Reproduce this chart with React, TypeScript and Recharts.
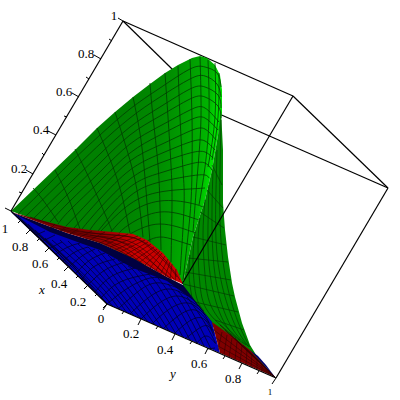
import { ScatterChart, Scatter, XAxis, YAxis } from "recharts";

type Path = number[][];

const boxBack: Path[] = [
  [[123, 21], [293, 96]],
  [[123, 21], [217, 113]],
  [[217, 113], [388, 188]],
];
const boxFront: Path[] = [
  [[293, 96], [388, 188]],
  [[293, 96], [182, 284]],
  [[388, 188], [276, 378]],
];

const greenMain: Path = [
  [11, 211], [33, 190], [55, 169], [75, 150], [97, 128], [115, 112], [133, 97], [150, 84], [165, 73], [178, 65],
  [192, 58], [200, 56], [207, 58], [215, 65], [220, 75], [222, 90], [222, 113], [218, 135], [212, 170], [205, 200],
  [193, 237], [183, 283], [100, 243], [11, 211],
];
// its lower side runs on under the band and the red tip, which are drawn over it
const greenFlap: Path = [
  [183, 283], [193, 237], [205, 200], [212, 170], [218, 135], [221, 110], [223, 150], [223, 203], [225, 230],
  [228, 257], [232, 283], [235, 297], [242, 323], [250, 345], [258, 358], [275, 377], [250, 354], [233, 342], [213, 327], [198, 312], [183, 290],
];
const greenArcs: Path[] = [
  [[18, 214], [40, 193], [70, 163], [100, 135], [130, 109], [160, 88], [190, 69], [205, 67], [217, 73], [221, 87]],
  [[26, 216], [70, 173], [100, 144], [130, 118], [160, 97], [190, 79], [205, 76], [217, 84], [221, 97]],
  [[34, 218], [70, 183], [100, 154], [130, 127], [160, 107], [190, 89], [205, 87], [218, 95], [221, 108]],
  [[42, 220], [70, 192], [100, 163], [130, 135], [160, 116], [190, 99], [205, 97], [218, 106], [221, 118]],
  [[50, 222], [70, 201], [100, 172], [130, 144], [160, 126], [190, 110], [205, 108], [219, 122]],
  [[58, 224], [70, 210], [100, 181], [130, 153], [160, 135], [190, 120], [205, 118], [218, 130]],
  [[66, 226], [100, 190], [130, 161], [160, 145], [190, 131], [205, 129], [216, 140]],
  [[74, 228], [100, 199], [130, 170], [160, 154], [190, 142], [205, 141], [215, 150]],
  [[82, 229], [100, 208], [130, 179], [160, 163], [190, 153], [205, 152], [213, 158]],
  [[90, 230], [100, 217], [130, 187], [160, 173], [190, 164], [205, 163], [212, 170]],
  [[98, 231], [130, 196], [160, 182], [190, 176], [205, 175], [209, 178]],
  [[100, 232], [130, 204], [160, 192], [190, 189], [205, 188]],
  [[110, 233], [130, 213], [160, 201], [190, 203], [203, 207]],
  [[118, 234], [130, 224], [160, 212], [190, 217], [199, 220]],
  [[130, 234], [160, 224], [190, 231], [195, 232]],
  [[147, 241], [160, 237], [175, 240], [191, 245]],
];
const greenRadials: Path[] = [
  [[33, 188], [43, 200], [58, 222]],
  [[55, 170], [68, 197], [80, 229]],
  [[75, 149], [90, 180], [105, 214], [112, 231]],
  [[97, 128], [113, 167], [123, 200], [130, 233]],
  [[115, 112], [127, 150], [137, 190], [143, 237]],
  [[133, 97], [141, 140], [146, 190], [150, 242]],
  [[150, 83], [153, 117], [158, 165], [160, 207], [161, 250]],
  [[165, 73], [168, 117], [171, 165], [172, 203], [171, 262]],
  [[178, 66], [180, 117], [183, 170], [184, 207], [180, 275]],
  [[190, 59], [192, 117], [192, 170], [190, 215], [183, 280]],
  [[200, 57], [201, 117], [198, 167], [193, 232]],
  [[208, 60], [209, 117], [205, 167], [199, 205]],
  [[215, 63], [215, 117], [208, 167]],
  [[219, 73], [218, 117], [212, 160]],
];
const flapLines: Path[] = [
  [[221, 120], [220, 170], [220, 220], [225, 275], [238, 322], [250, 347]],
  [[217, 150], [216, 190], [216, 240], [222, 285], [235, 325], [249, 347]],
  [[213, 170], [212, 210], [213, 255], [219, 295], [232, 328], [248, 346]],
  [[209, 185], [208, 225], [209, 265], [216, 302], [229, 330], [246, 345]],
  [[205, 200], [203, 235], [205, 275], [213, 310], [240, 340]],
  [[200, 218], [198, 245], [200, 285], [209, 313], [236, 338]],
  [[195, 232], [193, 260], [196, 295], [204, 311]],
  [[190, 255], [189, 275], [192, 298]],
  [[212, 165], [222, 185]],
  [[207, 190], [223, 208]],
  [[200, 212], [224, 228]],
  [[193, 237], [226, 245]],
  [[188, 258], [228, 262]],
  [[185, 272], [231, 280]],
  [[183, 284], [234, 296]],
  [[195, 302], [238, 312]],
  [[215, 320], [244, 330]],
];

const redMain: Path = [
  [11, 212], [40, 220], [67, 227], [90, 230], [113, 232], [133, 234], [147, 240], [163, 253], [177, 270], [183, 284],
  [167, 277], [133, 258], [100, 243], [67, 233], [11, 212],
];
const redLines: Path[] = [
  [[50, 229], [55, 224]], [[60, 231], [66, 227]], [[70, 234], [78, 229]], [[80, 237], [92, 231]], [[90, 240], [105, 232]],
  [[100, 243], [120, 234]], [[110, 247], [138, 236]], [[120, 252], [145, 240]], [[130, 257], [151, 244]],
  [[140, 262], [157, 249]], [[150, 268], [162, 253]], [[160, 275], [168, 259]], [[170, 280], [172, 264]],
  [[105, 245], [128, 234]], [[115, 250], [141, 238]], [[125, 255], [148, 242]], [[135, 260], [154, 247]],
  [[145, 265], [160, 251]], [[155, 272], [165, 256]], [[165, 277], [170, 262]], [[175, 282], [176, 269]],
  [[50, 227], [90, 233], [130, 237], [150, 248], [165, 262], [177, 277]],
  [[60, 230], [95, 236], [125, 243], [145, 255], [160, 270], [172, 280]],
  [[70, 233], [100, 239], [125, 248], [145, 262], [165, 277]],
  [[85, 238], [110, 246], [130, 257]],
  [[30, 217], [70, 229], [110, 235], [135, 238], [155, 250], [170, 266], [180, 280]],
  [[90, 235], [115, 240], [135, 250], [155, 265], [170, 278]],
  [[100, 236], [125, 240], [143, 249], [160, 264], [174, 279]],
  [[105, 241], [125, 251], [140, 262], [155, 273]],
];

// runs on under the blue sheet, which is drawn over it and cuts its lower side
const darkBand: Path = [
  [11, 212], [67, 233], [100, 243], [133, 258], [167, 277], [183, 285], [200, 307], [212, 322], [190, 315], [165, 300], [130, 280], [98, 262], [80, 255], [48, 242], [11, 212],
];
const blueMain: Path = [
  [11, 212], [50, 232], [83, 244], [100, 250], [133, 268], [167, 281], [193, 300], [212, 322], [220, 353], [107, 304], [11, 212],
];
const blueRising: Path[] = [
  [[36, 235], [45, 231]],
  [[43, 241], [55, 235]],
  [[50, 248], [62, 242]],
  [[56, 254], [68, 247], [80, 243]],
  [[63, 261], [75, 252], [88, 247]],
  [[69, 267], [82, 256], [95, 249]],
  [[76, 273], [90, 260], [105, 253]],
  [[82, 279], [95, 266], [115, 259]],
  [[88, 285], [105, 270], [125, 262]],
  [[95, 292], [112, 276], [135, 268]],
  [[101, 298], [120, 282], [150, 274]],
  [[107, 304], [128, 288], [150, 278], [165, 279]],
  [[118, 309], [135, 294], [155, 283], [178, 288]],
  [[130, 314], [148, 298], [168, 289], [188, 296]],
  [[141, 319], [158, 304], [178, 296], [198, 306]],
  [[152, 324], [168, 310], [188, 303], [205, 315]],
  [[163, 329], [178, 316], [195, 310], [209, 323]],
  [[174, 334], [188, 322], [202, 318], [212, 330]],
  [[185, 339], [198, 329], [208, 326], [214, 336]],
  [[196, 344], [206, 336], [215, 343]],
  [[207, 349], [215, 348]],
];
const blueFalling: Path[] = [
  [[50, 248], [38, 236], [25, 224]],
  [[70, 267], [55, 250], [35, 232], [18, 216]],
  [[85, 282], [70, 262], [45, 240], [22, 220]],
  [[98, 295], [85, 280], [55, 250], [28, 224]],
  [[107, 304], [92, 286], [65, 258], [35, 230]],
  [[113, 307], [100, 291], [75, 266], [45, 238]],
  [[120, 310], [105, 291], [80, 265], [52, 240]],
  [[127, 313], [111, 292], [86, 265], [60, 240]],
  [[134, 316], [117, 294], [92, 265], [68, 241]],
  [[141, 319], [123, 296], [99, 265], [78, 244]],
  [[148, 322], [130, 298], [106, 266], [88, 247]],
  [[155, 325], [137, 300], [113, 268], [98, 250]],
  [[162, 328], [145, 303], [122, 271], [108, 255]],
  [[169, 331], [152, 305], [130, 273], [118, 260]],
  [[176, 334], [160, 308], [138, 276], [128, 266]],
  [[183, 337], [167, 310], [147, 280], [138, 270]],
  [[190, 340], [175, 313], [157, 284], [148, 274]],
  [[197, 343], [183, 316], [167, 290], [158, 278]],
  [[204, 346], [191, 320], [177, 296], [168, 284]],
  [[211, 349], [199, 325], [187, 303], [178, 291]],
  [[216, 344], [206, 325], [195, 308], [187, 297]],
  [[214, 333], [205, 315], [198, 305]],
];

const redTip: Path = [[212, 322], [233, 337], [250, 350], [275, 377], [220, 353], [212, 322]];
const blueTip: Path = [[250, 350], [258, 356], [266, 365], [275, 377], [250, 350]];
const redTipLines: Path[] = [
  [[275, 377], [214, 330]], [[275, 377], [216, 338]], [[275, 377], [218, 346]], [[275, 377], [225, 330]],
  [[275, 377], [235, 338]], [[275, 377], [243, 345]], [[275, 377], [230, 334]], [[275, 377], [220, 325]],
  [[222, 332], [218, 350]], [[232, 338], [229, 357]], [[242, 346], [240, 362]], [[252, 354], [251, 367]], [[262, 365], [262, 372]],
  [[227, 335], [224, 354]], [[237, 342], [235, 360]], [[247, 350], [246, 365]], [[257, 359], [257, 370]],
];

const axisLines: Path[] = [
  [[11, 211], [123, 21]],
  [[11, 211], [107, 304]],
  [[107, 304], [276, 378]],
];
const zTicks: Path[] = [
  [[11, 211], [5, 208]], [[19, 192], [22, 193]], [[26, 170], [33, 174]], [[42, 153], [44, 155]], [[48, 131], [56, 135]],
  [[64, 116], [67, 117]], [[72, 93], [79, 97]], [[86, 77], [89, 79]], [[94, 55], [101, 59]], [[109, 39], [112, 41]], [[118, 18], [123, 21]],
];
const xTicks: Path[] = [
  [[20, 221], [18, 223]], [[30, 230], [26, 234]], [[39, 239], [37, 241]], [[49, 248], [45, 252]], [[59, 258], [57, 260]],
  [[68, 267], [64, 271]], [[78, 276], [76, 278]], [[88, 285], [84, 289]], [[97, 294], [95, 296]], [[107, 304], [103, 308]],
];
const yTicks: Path[] = [
  [[107, 304], [103, 310]], [[124, 311], [122, 314]], [[141, 319], [138, 325]], [[158, 326], [156, 329]], [[175, 334], [172, 340]],
  [[192, 341], [190, 344]], [[208, 348], [205, 354]], [[225, 356], [223, 359]], [[242, 363], [239, 369]], [[259, 371], [257, 374]],
  [[276, 378], [272, 384]],
];

const tickLabels = [
  { x: 86, y: 53, label: "0.8" }, { x: 64, y: 91, label: "0.6" }, { x: 41, y: 129, label: "0.4" }, { x: 19, y: 168, label: "0.2" }, { x: 114, y: 15, label: "1" },
  { x: 20, y: 246, label: "0.8" }, { x: 40, y: 263, label: "0.6" }, { x: 59, y: 283, label: "0.4" }, { x: 78, y: 301, label: "0.2" }, { x: 101, y: 318, label: "0" }, { x: 5, y: 228, label: "1" },
  { x: 131, y: 333, label: "0.2" }, { x: 165, y: 349, label: "0.4" }, { x: 199, y: 363, label: "0.6" }, { x: 233, y: 378, label: "0.8" },
];
const smallLabels = [{ x: 270, y: 392, label: "1" }];
const axisNames = [{ x: 42, y: 289, label: "x" }, { x: 173, y: 373, label: "y" }];

const toPoints = (list: Path) => list.map(([x, y]) => ({ x, y }));
const noDot = () => <g />;

function lineSeries(name: string, paths: Path[], stroke: string, strokeWidth: number, joint: any = "linear") {
  return paths.map((p, i) => (
    <Scatter
      key={`${name}-${i}`}
      data={toPoints(p)}
      line={{ stroke, strokeWidth, fill: "none" }}
      lineJointType={joint}
      shape={noDot}
      legendType="none"
      isAnimationActive={false}
    />
  ));
}

function polySeries(name: string, poly: Path, fill: string) {
  return (
    <Scatter
      key={name}
      data={toPoints(poly)}
      line={{ stroke: "none", fill }}
      shape={noDot}
      legendType="none"
      isAnimationActive={false}
    />
  );
}

function labelSeries(name: string, data: { x: number; y: number; label: string }[], fontSize: number, italic = false) {
  return (
    <Scatter
      key={name}
      data={data}
      legendType="none"
      isAnimationActive={false}
      shape={(p: any) => (
        <text
          x={p.cx}
          y={p.cy}
          textAnchor="middle"
          dominantBaseline="central"
          fontFamily="Liberation Serif"
          fontStyle={italic ? "italic" : "normal"}
          fontSize={fontSize}
          fill="#000"
        >
          {p.payload.label}
        </text>
      )}
    />
  );
}

export default function App() {
  return (
    <div style={{ position: "absolute", left: 0, top: 0, width: 400, height: 400, background: "#fff" }}>
      <ScatterChart width={400} height={400} margin={{ top: 0, right: 0, bottom: 0, left: 0 }}>
        <defs>
          <linearGradient id="greenShade" gradientUnits="userSpaceOnUse" x1="125" y1="110" x2="222" y2="120">
            <stop offset="0" stopColor="#008000" />
            <stop offset="0.4" stopColor="#008c00" />
            <stop offset="0.65" stopColor="#00a000" />
            <stop offset="0.85" stopColor="#00b400" />
            <stop offset="0.95" stopColor="#00e400" />
            <stop offset="1" stopColor="#00e000" />
          </linearGradient>
          <linearGradient id="redShade" gradientUnits="userSpaceOnUse" x1="30" y1="220" x2="135" y2="245">
            <stop offset="0" stopColor="#700000" />
            <stop offset="0.6" stopColor="#880000" />
            <stop offset="1" stopColor="#cc0000" />
          </linearGradient>
        </defs>
        <XAxis type="number" dataKey="x" domain={[0, 400]} allowDataOverflow hide />
        <YAxis type="number" dataKey="y" domain={[0, 400]} reversed allowDataOverflow hide />

        {lineSeries("back", boxBack, "#000", 1.2)}
        {polySeries("green", greenMain, "url(#greenShade)")}
        {polySeries("flap", greenFlap, "#008800")}
        {lineSeries("arc", greenArcs, "#003c00", 0.8, "natural")}
        {lineSeries("rad", greenRadials, "#003c00", 0.8, "natural")}
        {lineSeries("flapline", flapLines, "#003c00", 0.7, "natural")}
        {polySeries("band", darkBand, "#000040")}
        {polySeries("red", redMain, "url(#redShade)")}
        {lineSeries("redline", redLines, "#300000", 0.6, "natural")}
        {polySeries("blue", blueMain, "#0000b8")}
        {lineSeries("bluerise", blueRising, "#000030", 0.8, "natural")}
        {lineSeries("bluefall", blueFalling, "#000030", 0.8, "natural")}
        {polySeries("redtip", redTip, "#800000")}
        {lineSeries("redtipline", redTipLines, "#300000", 0.6)}
        {polySeries("bluetip", blueTip, "#00006c")}
        {lineSeries("front", boxFront, "#000", 1.2)}
        {lineSeries("axis", axisLines, "#000", 1.2)}
        {lineSeries("ztick", zTicks, "#000", 1)}
        {lineSeries("xtick", xTicks, "#000", 1)}
        {lineSeries("ytick", yTicks, "#000", 1)}
        {labelSeries("ticks", tickLabels, 13)}
        {labelSeries("small", smallLabels, 9)}
        {labelSeries("names", axisNames, 13, true)}
      </ScatterChart>
    </div>
  );
}
